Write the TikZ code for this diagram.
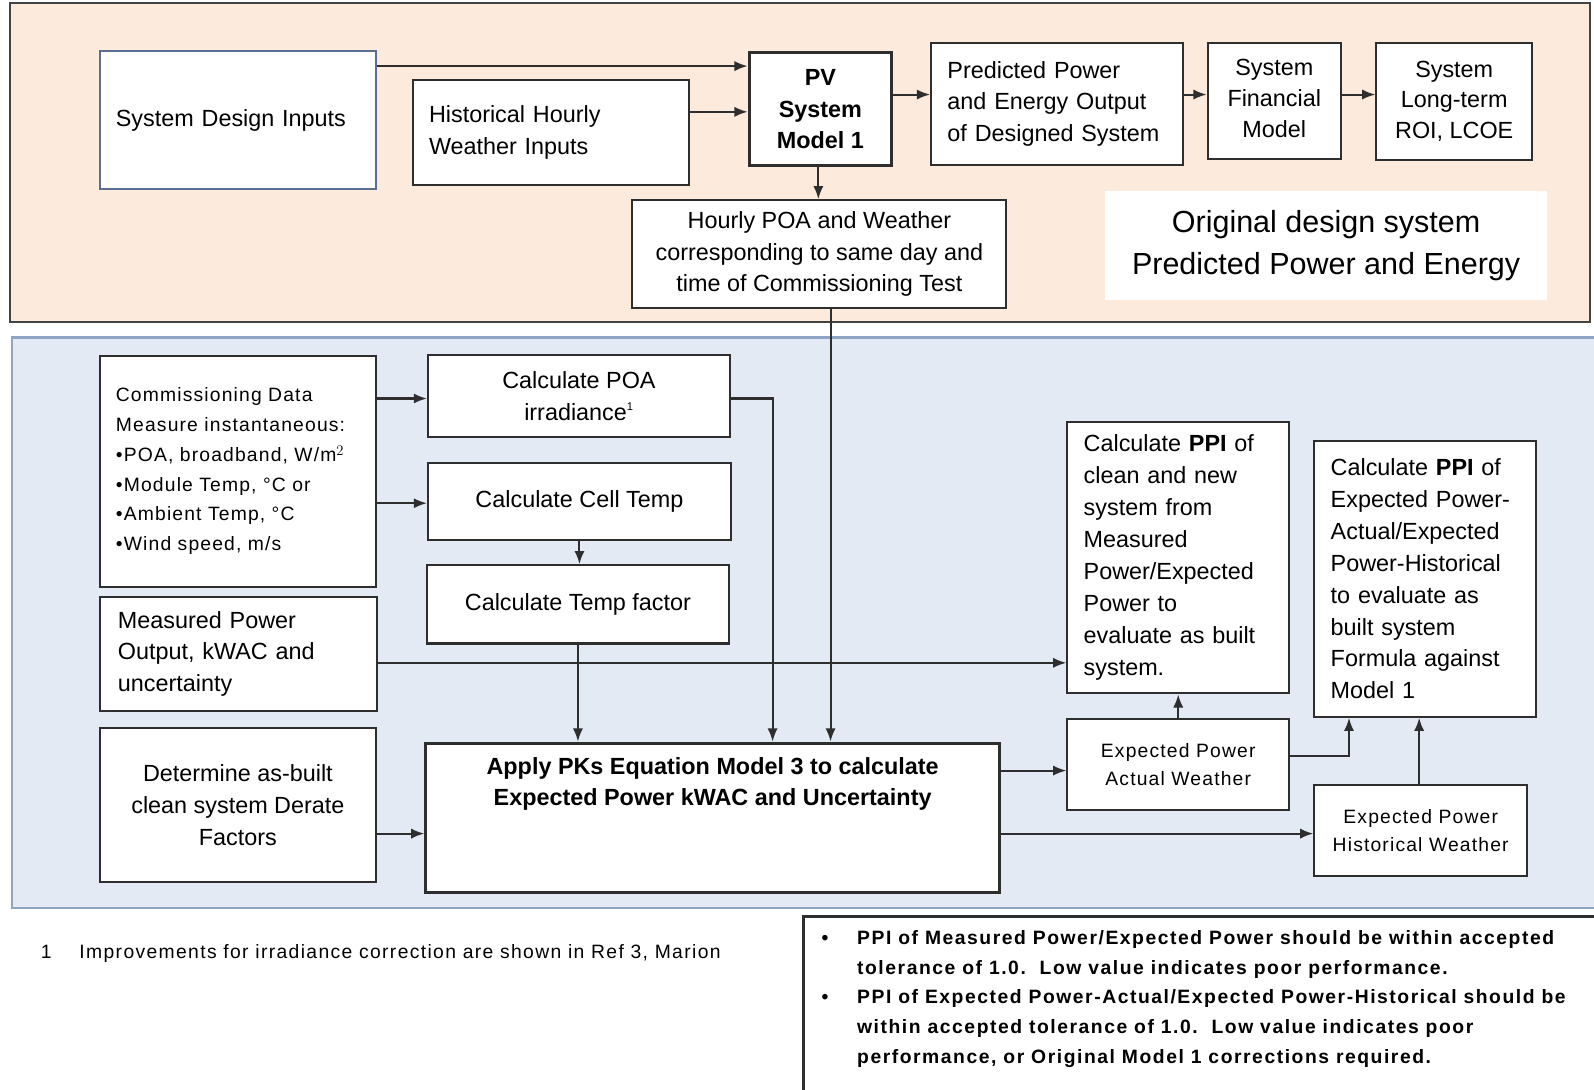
\documentclass[tikz,border=0pt]{standalone}
\usepackage{fontspec}
\setmainfont{Liberation Sans}
\newfontfamily\spacedfont[LetterSpace=6]{Liberation Sans}
\newfontfamily\notefont[LetterSpace=8]{Liberation Sans}
\newfontfamily\fnfont[LetterSpace=7]{Liberation Sans}
\usetikzlibrary{arrows.meta}
\definecolor{peach}{HTML}{FCEADC}
\definecolor{paleblue}{HTML}{E3EAF4}
\definecolor{panelblue}{HTML}{8EA5C4}
\definecolor{linecol}{HTML}{2E2E2E}
\definecolor{bluegrey}{HTML}{5A6E93}
\newcommand{\fsz}[2]{\fontsize{#1}{#2}\selectfont}
\tikzset{
  box/.style={draw=linecol, fill=white, line width=2pt, inner sep=0pt, text=black},
  thickbox/.style={box, line width=3pt},
  txt/.style={font=\fsz{23}{31}},
  small/.style={font=\spacedfont\fsz{19}{28}},
  arr/.style={draw=linecol, line width=2pt, -{Latex[length=13pt,width=10pt]}},
}
\begin{document}
\begin{tikzpicture}[x=1pt,y=-1pt]
\useasboundingbox (0,0) rectangle (1568,1072);
% panels
\draw[fill=peach, draw=linecol!90, line width=1.6pt] (10,3) rectangle (1564,317);
\draw[fill=paleblue, draw=panelblue, line width=2.2pt] (12,332) rectangle (1580,893);

% top row
\node[box, draw=bluegrey, minimum width=272pt, minimum height=135pt, txt, text width=240pt, align=left] (sdi) at (234,118) {System Design Inputs};
\node[box, minimum width=272pt, minimum height=103pt, txt, text width=240pt, align=left] (hist) at (542,130.5) {Historical Hourly\\Weather Inputs};
\node[thickbox, minimum width=140pt, minimum height=111pt, txt, font=\bfseries\fsz{23}{31}, align=center] (pv) at (807,107.5) {PV\\System\\Model 1};
\node[box, minimum width=248pt, minimum height=120pt, txt, text width=216pt, align=left] (pred) at (1040,102) {Predicted Power\\and Energy Output\\of Designed System};
\node[box, minimum width=131pt, minimum height=114pt, txt, font=\fsz{23}{30.5}, align=center] (fin) at (1253.5,99) {System\\Financial\\Model\vphantom{g}};
\node[box, minimum width=153pt, minimum height=115pt, txt, font=\fsz{23}{30}, align=center] (roi) at (1430.5,99.5) {System\\Long-term\\ROI, LCOE};
\node[fill=white, inner sep=0pt, minimum width=435pt, minimum height=107pt, font=\fsz{30}{41}, align=center] (orig) at (1304.5,241.5) {Original design system\\Predicted Power and Energy};
\node[box, minimum width=368pt, minimum height=106pt, txt, align=center] (hpoa) at (806,250) {Hourly POA and Weather\\corresponding to same day and\\time of Commissioning Test};

% bottom area
\node[box, minimum width=272pt, minimum height=227pt, small, font=\spacedfont\fsz{19}{29}, text width=240pt, align=left] (comm) at (234,463.5) {Commissioning Data\\Measure instantaneous:\\[1pt]\textbullet POA, broadband, W/m$^{2}$\\\textbullet Module Temp, °C or\\\textbullet Ambient Temp, °C\\\textbullet Wind speed, m/s};
\node[box, minimum width=297pt, minimum height=81pt, txt, align=center] (poa) at (569.5,389.5) {Calculate POA\\irradiance\textsuperscript{\fsz{11}{12}1}};
\node[box, minimum width=298pt, minimum height=76pt, txt, align=center] (cell) at (570,493) {Calculate Cell Temp};
\node[box, minimum width=297pt, minimum height=77pt, txt, align=center] (tf) at (568.5,594.5) {Calculate Temp factor};
\node[box, minimum width=273pt, minimum height=112pt, txt, text width=237pt, align=left] (meas) at (234.5,643) {Measured Power\\Output, kWAC and\\uncertainty};
\node[box, minimum width=272pt, minimum height=152pt, txt, align=center] (der) at (234,792) {Determine as-built\\clean system Derate\\Factors};
\node[thickbox, minimum width=564pt, minimum height=147pt] (apply) at (701,804.5) {\parbox[c][140pt][t]{550pt}{\centering\bfseries\fsz{23}{30}\vspace*{11pt}Apply PKs Equation Model 3 to calculate\\Expected Power kWAC and Uncertainty}};
\node[box, minimum width=218pt, minimum height=267pt, txt, font=\fsz{23}{31.4}, text width=186pt, align=left] (ppi1) at (1159,548.5) {Calculate \textbf{PPI} of\\clean and new\\system from\\Measured\\Power/Expected\\Power to\\evaluate as built\\system.};
\node[box, minimum width=218pt, minimum height=271pt, txt, font=\fsz{23}{31.3}, text width=186pt, align=left] (ppi2) at (1402,569.5) {Calculate \textbf{PPI} of\\Expected Power-\\Actual/Expected\\Power-Historical\\to evaluate as\\built system\\Formula against\\Model 1};
\node[box, minimum width=218pt, minimum height=90pt, small, align=center] (epa) at (1159,752) {Expected Power\\Actual Weather};
\node[box, minimum width=209pt, minimum height=90pt, small, align=center] (eph) at (1397.5,817) {Expected Power\\Historical Weather};

% footnote
\node[anchor=base west, inner sep=0pt, font=\fnfont\fsz{19}{22}] (fn) at (40,943) {\makebox[38pt][l]{1}Improvements for irradiance correction are shown in Ref 3, Marion};

% note box
\node[draw=linecol, line width=2.8pt, fill=white, anchor=north west, minimum width=800pt, minimum height=190pt, inner sep=0pt] (note) at (789,900) {};
\node[anchor=north west, inner sep=0pt, font=\notefont\bfseries\fsz{19}{29.3}, align=left] (notetxt) at (843,915) {\llap{\makebox[35pt][l]{•}}PPI of Measured Power/Expected Power should be within accepted\\tolerance of 1.0.\ \ Low value indicates poor performance.\\\llap{\makebox[35pt][l]{•}}PPI of Expected Power-Actual/Expected Power-Historical should be\\within accepted tolerance of 1.0.\ \ Low value indicates poor\\performance, or Original Model 1 corrections required.};

% connectors top
\draw[arr] (sdi.east |- 0,65) -- (pv.west |- 0,65);
\draw[arr] (hist.east |- 0,110) -- (pv.west |- 0,110);
\draw[arr] (pv.east |- 0,93) -- (pred.west |- 0,93);
\draw[arr] (pred.east |- 0,93) -- (fin.west |- 0,93);
\draw[arr] (fin.east |- 0,93) -- (roi.west |- 0,93);
\draw[arr] (pv.south -| 805,0) -- (hpoa.north -| 805,0);
\draw[arr] (hpoa.south -| 817,0) -- (apply.north -| 817,0);

% connectors bottom
\draw[arr] (comm.east |- 0,392) -- (poa.west |- 0,392);
\draw[arr] (comm.east |- 0,495) -- (cell.west |- 0,495);
\draw[arr] (cell.south) -- (tf.north -| cell.south);
\draw[arr] (poa.east |- 0,392) -| (apply.north -| 760,0);
\draw[arr] (tf.south) -- (apply.north -| tf.south);
\draw[arr] (meas.east |- 0,652) -- (ppi1.west |- 0,652);
\draw[arr] (der.east |- 0,820) -- (apply.west |- 0,820);
\draw[arr] (apply.east |- 0,758) -- (epa.west |- 0,758);
\draw[arr] (apply.east |- 0,820) -- (eph.west |- 0,820);
\draw[arr] (epa.north) -- (ppi1.south);
\draw[arr] (epa.east |- 0,744) -| (ppi2.south -| 1327,0);
\draw[arr] (eph.north -| 1396,0) -- (ppi2.south -| 1396,0);
\end{tikzpicture}
\end{document}
